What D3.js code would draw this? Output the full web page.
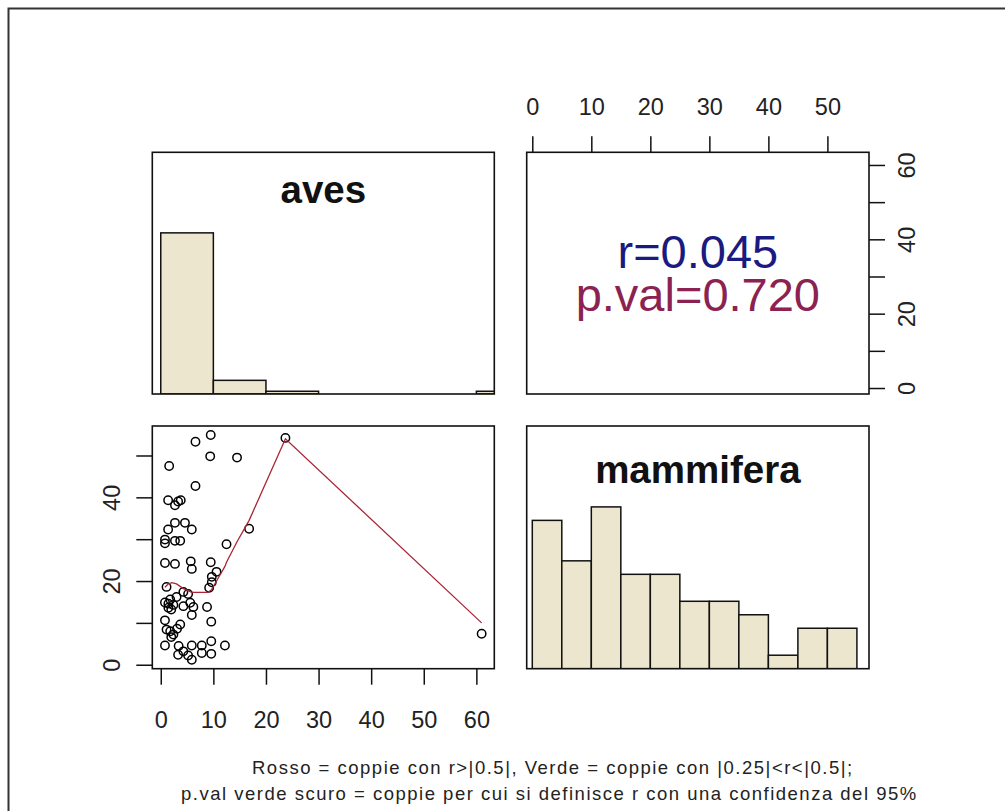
<!DOCTYPE html>
<html>
<head>
<meta charset="utf-8">
<script src="https://cdn.jsdelivr.net/npm/d3@7"></script>
<style>
  body { margin: 0; background: #fff; }
  svg { display: block; font-family: "Liberation Sans", Arial, sans-serif; }
</style>
</head>
<body>
<svg id="chart" width="1005" height="811"></svg>
<script>
// Paired observations: bird count (aves) and mammal count (mammifera) per site
const aves = [
  9.5, 6.6, 23.7, 9.4, 14.5, 1.6, 6.6, 1.4, 2.7, 3.3,
  3.8, 2.7, 4.6, 5.9, 1.4, 16.8, 0.8, 0.8, 2.7, 3.7,
  12.5, 0.8, 2.7, 5.7, 9.5, 5.9, 10.6, 9.7, 9.7, 9.2,
  1.1, 4.3, 5.2, 3.0, 1.8, 0.8, 1.45, 2.4, 1.45, 2.0,
  4.3, 5.6, 6.2, 8.8, 5.9, 9.6, 0.8, 1.1, 2.4, 3.7,
  1.8, 3.1, 9.6, 61.0, 2.0, 0.8, 3.4, 4.3, 5.9, 5.9,
  7.8, 7.8, 9.6, 12.2, 5.2, 3.3
];
const mammifera = [
  54.9, 53.3, 54.2, 49.8, 49.5, 47.5, 42.7, 39.3, 38.1, 39.0,
  39.3, 33.9, 33.9, 32.3, 32.3, 32.5, 29.9, 29.0, 29.6, 29.6,
  28.8, 24.3, 24.1, 24.7, 24.5, 22.9, 22.2, 21.0, 19.7, 18.4,
  18.6, 17.4, 16.9, 16.2, 15.6, 14.9, 14.6, 14.3, 13.6, 13.2,
  14.0, 14.8, 13.8, 13.8, 11.9, 10.3, 10.6, 8.4, 7.2, 9.6,
  8.0, 8.6, 5.6, 7.4, 6.6, 4.6, 4.5, 3.2, 4.6, 1.2,
  4.6, 2.8, 2.6, 4.6, 2.2, 2.4
];

// Smoothed trend (lowess) vertices for the scatter panel
const smoothAves = [0.8, 1.4, 2.1, 3.0, 4.3, 5.9, 9.0, 9.7, 10.6, 12.2, 12.5, 14.5, 16.8, 23.7, 61.0];
const smoothMamm = [18.5, 19.3, 19.6, 19.3, 18.2, 17.3, 17.3, 18.0, 20.0, 23.5, 24.5, 29.4, 34.5, 54.0, 10.0];

// Axis ticks and histogram breaks
const avesTicks = [0, 10, 20, 30, 40, 50, 60];
const mammTicks = [0, 10, 20, 30, 40, 50];
const avesBreaks = [0, 10, 20, 30, 40, 50, 60, 70];
const mammBreaks = [0, 5, 10, 15, 20, 25, 30, 35, 40, 45, 50, 55];

const varNames = ["aves", "mammifera"];
const corrLabel = "r=0.045";
const pvalLabel = "p.val=0.720";
const captionLines = [
  "Rosso = coppie con r>|0.5|, Verde = coppie con |0.25|<r<|0.5|;",
  "p.val verde scuro = coppie per cui si definisce r con una confidenza del 95%"
];

// Panel grid
const cols = [[152.3, 494.3], [526.7, 869]];
const rows = [[152.3, 394], [426, 668.7]];
const barFill = "#ECE6CF";
const tickFont = 23.5;

const svg = d3.select("#chart");

// Outer frame (left and top edges)
svg.append("path")
  .attr("d", "M8.5,811 V8.5 H1005")
  .attr("fill", "none").attr("stroke", "#333").attr("stroke-width", 2);

// Pad a range by 4% on each side
const pad = e => { const r = e[1] - e[0]; return [e[0] - 0.04 * r, e[1] + 0.04 * r]; };

const xA = d3.scaleLinear().domain(pad(d3.extent(aves))).range(cols[0]);
const xM = d3.scaleLinear().domain(pad(d3.extent(mammifera))).range(cols[1]);
const yA = d3.scaleLinear().domain(pad(d3.extent(aves))).range([rows[0][1], rows[0][0]]);
const yM = d3.scaleLinear().domain(pad(d3.extent(mammifera))).range([rows[1][1], rows[1][0]]);

// Clip paths for each panel
const defs = svg.append("defs");
[[0, 0], [1, 1], [0, 1], [1, 0]].forEach(([c, r]) => {
  defs.append("clipPath").attr("id", `clip-${c}-${r}`)
    .append("rect")
    .attr("x", cols[c][0]).attr("y", rows[r][0])
    .attr("width", cols[c][1] - cols[c][0]).attr("height", rows[r][1] - rows[r][0]);
});

// Diagonal histograms
function drawHist(values, breaks, x, c, r) {
  const bins = d3.bin()
    .domain([breaks[0], breaks[breaks.length - 1]])
    .thresholds(breaks.slice(1, -1))(values);
  const maxC = d3.max(bins, b => b.length);
  const yH = d3.scaleLinear().domain([0, 1.5]).range([rows[r][1], rows[r][0]]);
  svg.append("g").attr("clip-path", `url(#clip-${c}-${r})`)
    .selectAll("rect").data(bins.filter(b => b.length > 0)).join("rect")
    .attr("x", b => x(b.x0))
    .attr("width", b => x(b.x1) - x(b.x0))
    .attr("y", b => yH(b.length / maxC))
    .attr("height", b => yH(0) - yH(b.length / maxC))
    .attr("fill", barFill)
    .attr("stroke", "#111")
    .attr("stroke-width", 1.5);
}
drawHist(aves, avesBreaks, xA, 0, 0);
drawHist(mammifera, mammBreaks, xM, 1, 1);

// Variable names on the diagonal
svg.append("text")
  .attr("x", (cols[0][0] + cols[0][1]) / 2).attr("y", 203.3)
  .attr("text-anchor", "middle").attr("font-weight", "bold")
  .attr("font-size", 38.5).attr("fill", "#111")
  .text(varNames[0]);
svg.append("text")
  .attr("x", (cols[1][0] + cols[1][1]) / 2).attr("y", 483.3)
  .attr("text-anchor", "middle").attr("font-weight", "bold")
  .attr("font-size", 38.5).attr("fill", "#111")
  .text(varNames[1]);

// Scatter panel with smoother
const sc = svg.append("g").attr("clip-path", "url(#clip-0-1)");
sc.selectAll("circle").data(aves.map((a, i) => [a, mammifera[i]])).join("circle")
  .attr("cx", d => xA(d[0]))
  .attr("cy", d => yM(d[1]))
  .attr("r", 4.2)
  .attr("fill", "none")
  .attr("stroke", "#000")
  .attr("stroke-width", 1.5);
sc.append("path")
  .datum(smoothAves.map((a, i) => [a, smoothMamm[i]]))
  .attr("d", d3.line().x(d => xA(d[0])).y(d => yM(d[1])))
  .attr("fill", "none")
  .attr("stroke", "#AA2636")
  .attr("stroke-width", 1.3);

// Correlation panel text
const cx = (cols[1][0] + cols[1][1]) / 2;
svg.append("text").attr("x", cx).attr("y", 268.3)
  .attr("text-anchor", "middle").attr("font-size", 47).attr("fill", "#1A1A80")
  .text(corrLabel);
svg.append("text").attr("x", cx).attr("y", 311)
  .attr("text-anchor", "middle").attr("font-size", 47).attr("fill", "#8B2252")
  .text(pvalLabel);

// Panel boxes
[[0, 0], [1, 0], [0, 1], [1, 1]].forEach(([c, r]) => {
  svg.append("rect")
    .attr("x", cols[c][0]).attr("y", rows[r][0])
    .attr("width", cols[c][1] - cols[c][0]).attr("height", rows[r][1] - rows[r][0])
    .attr("fill", "none").attr("stroke", "#111").attr("stroke-width", 1.6);
});

// Axes
function styleAxis(g) {
  g.select(".domain").remove();
  g.selectAll(".tick line").attr("stroke", "#111").attr("stroke-width", 1.5);
  g.selectAll(".tick text").attr("font-size", tickFont).attr("fill", "#222")
    .attr("font-family", "\"Liberation Sans\", Arial, sans-serif");
}

// bottom: aves
const axB = svg.append("g").attr("transform", `translate(0,${rows[1][1]})`)
  .call(d3.axisBottom(xA).tickValues(avesTicks).tickSize(16).tickSizeOuter(0));
styleAxis(axB);
axB.selectAll(".tick text").attr("y", 59.3).attr("dy", null);

// top: mammifera
const axT = svg.append("g").attr("transform", `translate(0,${rows[0][0]})`)
  .call(d3.axisTop(xM).tickValues(mammTicks).tickSize(16).tickSizeOuter(0));
styleAxis(axT);
axT.selectAll(".tick text").attr("y", -37.3).attr("dy", null);

// left: mammifera (labels every other tick)
const axL = svg.append("g").attr("transform", `translate(${cols[0][0]},0)`)
  .call(d3.axisLeft(yM).tickValues(mammTicks).tickSize(16).tickSizeOuter(0)
    .tickFormat(d => d % 20 === 0 ? d : ""));
styleAxis(axL);
axL.selectAll(".tick text")
  .attr("x", null).attr("dy", null).attr("text-anchor", "middle")
  .attr("transform", "translate(-32.3,0) rotate(-90)");

// right: aves (labels every other tick)
const axR = svg.append("g").attr("transform", `translate(${cols[1][1]},0)`)
  .call(d3.axisRight(yA).tickValues(avesTicks).tickSize(16).tickSizeOuter(0)
    .tickFormat(d => d % 20 === 0 ? d : ""));
styleAxis(axR);
axR.selectAll(".tick text")
  .attr("x", null).attr("dy", null).attr("text-anchor", "middle")
  .attr("transform", "translate(46,0) rotate(-90)");

// Caption
svg.append("text").attr("x", 252).attr("y", 774)
  .attr("font-size", 18.5).attr("letter-spacing", 1.5).attr("fill", "#222")
  .text(captionLines[0]);
svg.append("text").attr("x", 181).attr("y", 800)
  .attr("font-size", 18.5).attr("letter-spacing", 1.5).attr("fill", "#222")
  .text(captionLines[1]);
</script>
</body>
</html>
